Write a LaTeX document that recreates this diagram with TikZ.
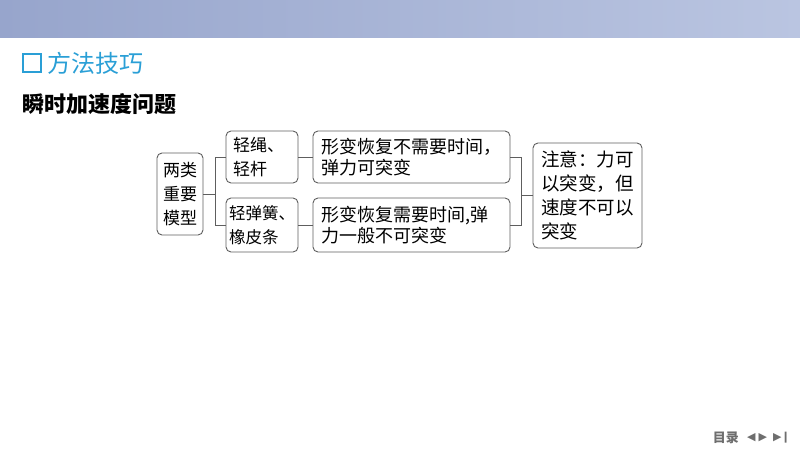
\documentclass[tikz,border=0pt]{standalone}
\usepackage{fontspec}
\setmainfont{Noto Sans CJK SC}
\newfontfamily\symfont{DejaVu Sans}
\usetikzlibrary{calc,positioning}
\definecolor{bandleft}{HTML}{97A5CC}
\definecolor{bandright}{HTML}{BAC5E1}
\definecolor{titleblue}{HTML}{2A9FD6}
\definecolor{boxgray}{HTML}{5E5E5E}
\definecolor{navgray}{HTML}{6E6E6E}

\begin{document}
\begin{tikzpicture}[x=1pt,y=-1pt,
    modelbox/.style={
      rectangle,
      rounded corners=5pt,
      draw=boxgray,
      line width=0.9pt,
      inner sep=3pt,
      font=\fontsize{17}{24}\selectfont},
    link/.style={
      draw=boxgray,
      line width=0.9pt}]

  \useasboundingbox (0,0) rectangle (800,450);
  \shade[left color=bandleft,right color=bandright] (0,0) rectangle (800,37);

  % heading
  \draw[titleblue,line width=1.3pt] (23,54) rectangle (41,72);
  \node(head) [anchor=west,text=titleblue,inner sep=0pt,
    font=\fontsize{24}{24}\selectfont] at (47,63) {方法技巧};
  \node(topic) [anchor=west,inner sep=0pt,
    font=\fontsize{22}{22}\selectfont\bfseries] at (22,104) {瞬时加速度问题};

  % boxes
  \path (180,194) node(model) [modelbox,minimum width=46pt,minimum height=82pt,align=center]
        {两类\\重要\\模型}
  (262,157) node(rope) [modelbox,minimum width=72pt,minimum height=52pt,align=left,
        inner sep=1pt,text width=64pt]
        {\hspace*{3pt}轻绳、\\\hspace*{3pt}轻杆}
  (262,225) node(spring) [modelbox,minimum width=72pt,minimum height=54pt,align=left,
        inner sep=1pt,font=\fontsize{16.5}{24}\selectfont]
        {轻弹簧、\\橡皮条}
  (411.5,157) node(ropetxt) [modelbox,minimum width=197pt,minimum height=52pt,align=left,
        text width=180pt,font=\fontsize{18}{21.5}\selectfont]
        {形变恢复不需要时间，\\弹力可突变}
  (411.5,225) node(springtxt) [modelbox,minimum width=197pt,minimum height=54pt,align=left,
        text width=180pt,font=\fontsize{18}{21.5}\selectfont]
        {形变恢复需要时间,弹\\力一般不可突变}
  (587.5,195.5) node(note) [modelbox,minimum width=109pt,minimum height=105pt,align=left,
        font=\fontsize{18.5}{24}\selectfont]
        {注意：力可\\以突变，但\\速度不可以\\突变};

  \coordinate (jl) at (215,194);
  \coordinate (jr) at (521,195.5);

  \draw[link] (model.east) -- (jl) |- (rope.west);
  \draw[link] (jl) |- (spring.west);
  \draw[link] (rope.east) -- (ropetxt.west);
  \draw[link] (spring.east) -- (springtxt.west);
  \draw[link] (ropetxt.east) -| (jr);
  \draw[link] (springtxt.east) -| (jr);
  \draw[link] (jr) -- (note.west);

  % navigation
  \node(toc) [anchor=east,inner sep=0pt,text=navgray,
    font=\fontsize{13}{13}\selectfont\bfseries] at (739,438) {目录};
  \node(nav) [anchor=west,inner sep=0pt,text=navgray,
    font=\fontsize{11}{11}\symfont] at (747,438) {◀\hspace{3pt}▶\hspace{6pt}▶\kern-0.5pt❙};

\end{tikzpicture}
\end{document}
